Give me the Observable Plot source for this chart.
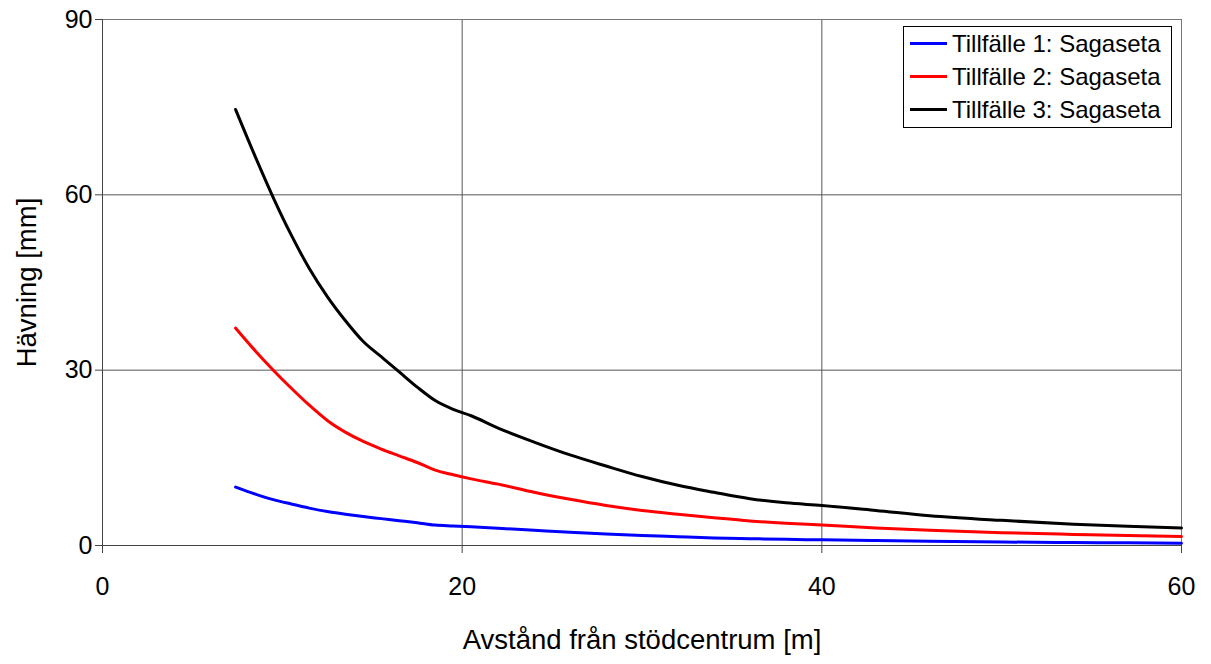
<!DOCTYPE html>
<html>
<head>
<meta charset="utf-8">
<script src="https://cdn.jsdelivr.net/npm/d3@7"></script>
<script src="https://cdn.jsdelivr.net/npm/@observablehq/plot@0.6"></script>
<style>
  body { margin: 0; background: #fff; }
  #chart { position: relative; width: 1211px; height: 664px; font-family: "Liberation Sans", Arial, sans-serif; }
  #legend {
    position: absolute; left: 903px; top: 26px; width: 269px; height: 102px;
    box-sizing: border-box; border: 1px solid #000; background: #fff;
    display: flex; flex-direction: column;
  }
  #legend .row { height: 33px; display: flex; align-items: center; font-size: 24px; color: #000; white-space: nowrap; }
  #legend .swatch { width: 37px; height: 3px; margin-left: 6px; margin-right: 5px; }
</style>
</head>
<body>
<div id="chart"></div>
<script>
// Distance from the support centre [m]
const distance = [7.4, 8.5, 9.5, 10.5, 11.5, 12.5, 13.5, 14.5, 15.5, 16.5, 17.5, 18.5, 19.5, 20.5,
  22, 24, 26, 28, 30, 32, 34, 36, 38, 40, 43, 46, 50, 54, 57, 60];

// Heave [mm] per occasion (Sagaseta)
const heave1 = [10.0, 8.8, 7.85, 7.1, 6.4, 5.8, 5.35, 4.95, 4.6, 4.25, 3.9, 3.5, 3.35, 3.2,
  2.95, 2.6, 2.25, 1.95, 1.7, 1.5, 1.3, 1.17, 1.05, 0.97, 0.85, 0.73, 0.6, 0.5, 0.45, 0.4];
const heave2 = [37.2, 33.3, 30.0, 26.9, 24.0, 21.4, 19.4, 17.8, 16.5, 15.35, 14.2, 12.9, 12.1, 11.4,
  10.5, 9.1, 7.9, 6.85, 6.0, 5.35, 4.75, 4.2, 3.8, 3.5, 3.0, 2.6, 2.2, 1.9, 1.7, 1.55];
const heave3 = [74.6, 66.5, 59.5, 53.1, 47.4, 42.6, 38.5, 34.9, 32.3, 29.7, 27.1, 24.8, 23.3, 22.2,
  20.1, 17.7, 15.5, 13.6, 11.8, 10.3, 9.1, 8.0, 7.3, 6.85, 6.0, 5.1, 4.3, 3.65, 3.3, 3.0];

const seriesNames = ["Tillfälle 1: Sagaseta", "Tillfälle 2: Sagaseta", "Tillfälle 3: Sagaseta"];
const seriesColors = ["#0000ff", "#ff0000", "#000000"];
const xTicks = [0, 20, 40, 60];
const yTicks = [0, 30, 60, 90];
const xLabel = "Avstånd från stödcentrum [m]";
const yLabel = "Hävning [mm]";

const rows = [heave1, heave2, heave3].flatMap((vals, i) =>
  vals.map((v, j) => ({ series: seriesNames[i], x: distance[j], v }))
);

const chart = Plot.plot({
  width: 1211,
  height: 664,
  marginTop: 19,
  marginRight: 30,
  marginBottom: 119,
  marginLeft: 102,
  style: { fontFamily: "'Liberation Sans', Arial, sans-serif", fontSize: "25px", color: "#000", background: "#fff" },
  x: { domain: [0, 60] },
  y: { domain: [0, 90] },
  color: { domain: seriesNames, range: seriesColors },
  marks: [
    Plot.gridX(xTicks, { stroke: "#555", strokeOpacity: 1 }),
    Plot.gridY(yTicks, { stroke: "#555", strokeOpacity: 1 }),
    Plot.frame({ stroke: "#777" }),
    Plot.ruleX([0], { stroke: "#444" }),
    Plot.ruleY([0], { stroke: "#444" }),
    Plot.axisX({ ticks: xTicks, tickSize: 8, tickPadding: 24, label: null, stroke: "#444", fontSize: 25 }),
    Plot.axisY({ ticks: yTicks, tickSize: 7, tickPadding: 3, label: null, stroke: "#444", fontSize: 25 }),
    Plot.line(rows, { x: "x", y: "v", z: "series", stroke: "series", strokeWidth: 3, curve: "monotone-x" }),
    Plot.text([xLabel], { frameAnchor: "bottom", text: d => d, dy: 95, fontSize: 27.5, lineAnchor: "middle", textAnchor: "middle" }),
    Plot.text([yLabel], { frameAnchor: "left", text: d => d, dx: -75, rotate: -90, fontSize: 27.5, lineAnchor: "middle", textAnchor: "middle" })
  ]
});

const root = document.getElementById("chart");
root.appendChild(chart);

// Legend box inside the plot area
const legend = document.createElement("div");
legend.id = "legend";
seriesNames.forEach((name, i) => {
  const row = document.createElement("div");
  row.className = "row";
  const sw = document.createElement("span");
  sw.className = "swatch";
  sw.style.background = seriesColors[i];
  const label = document.createElement("span");
  label.textContent = name;
  row.appendChild(sw);
  row.appendChild(label);
  legend.appendChild(row);
});
root.appendChild(legend);
</script>
</body>
</html>
